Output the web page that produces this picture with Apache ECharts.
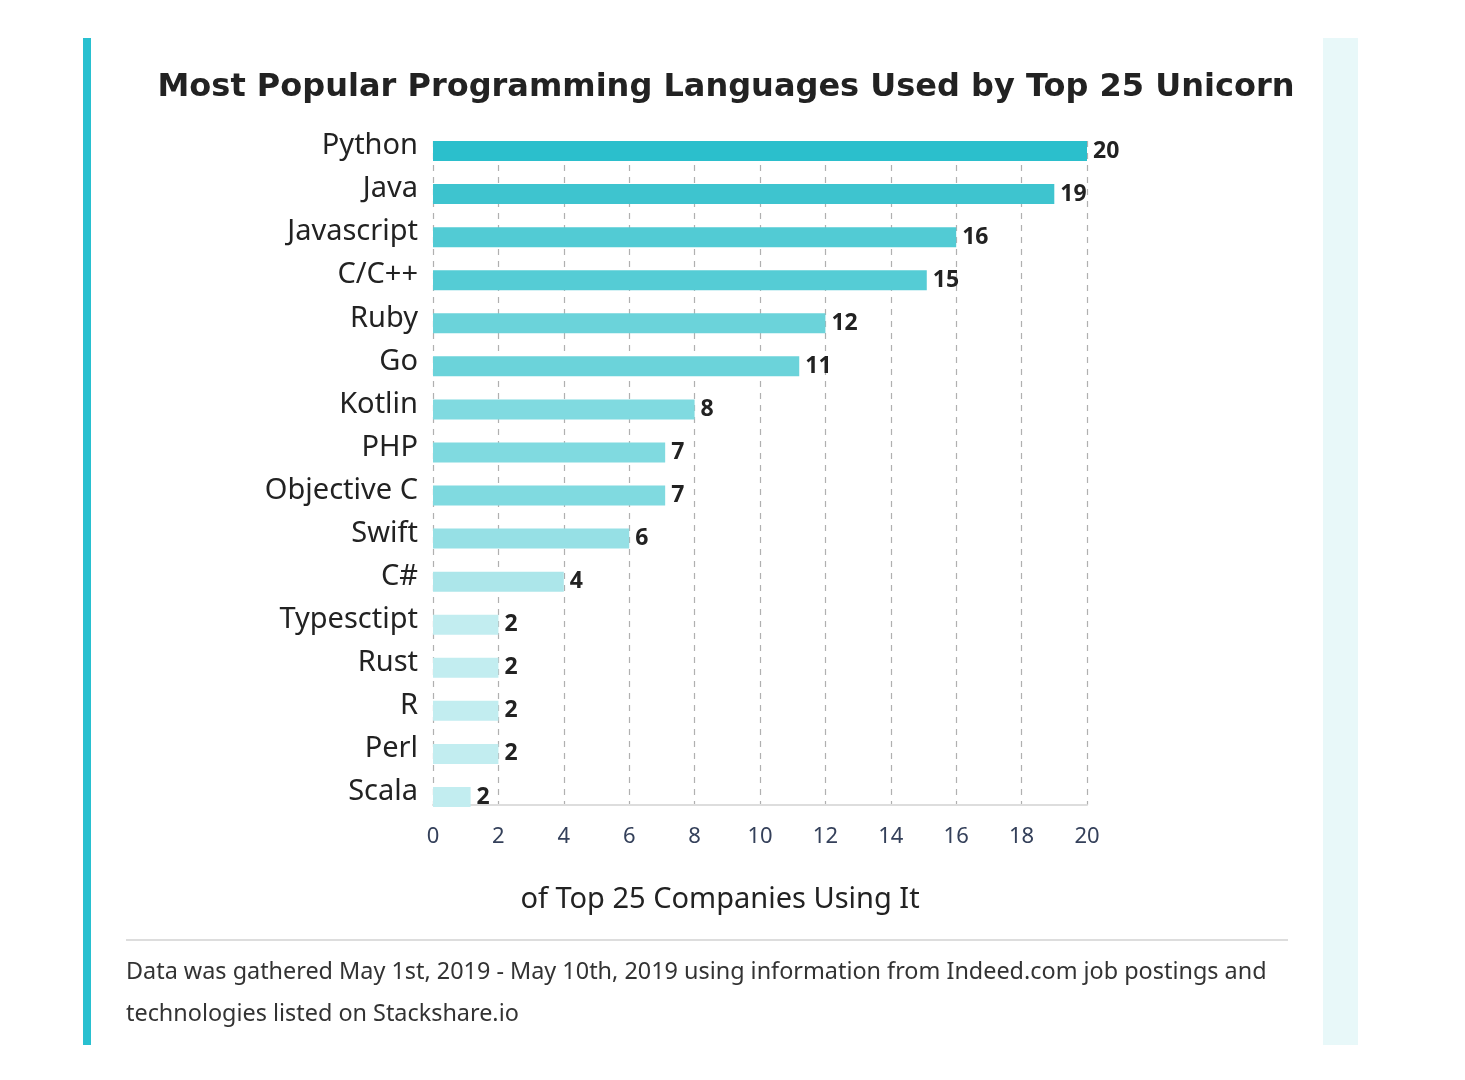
<!DOCTYPE html>
<html>
<head>
<meta charset="utf-8">
<script src="https://cdn.jsdelivr.net/npm/echarts@6/dist/echarts.min.js"></script>
<style>
html,body{margin:0;padding:0;background:#fff;}
#chart{width:1465px;height:1080px;}
</style>
</head>
<body>
<div id="chart"></div>
<script>
// ---- data ----
var categories = ['Python','Java','Javascript','C/C++','Ruby','Go','Kotlin','PHP','Objective C','Swift','C#','Typesctipt','Rust','R','Perl','Scala'];
var barValues = [20, 19, 16, 15.1, 12, 11.2, 8, 7.1, 7.1, 6, 4, 2, 2, 2, 2, 1.15];
var valueLabels = [20, 19, 16, 15, 12, 11, 8, 7, 7, 6, 4, 2, 2, 2, 2, 2];
var xTicks = [0, 2, 4, 6, 8, 10, 12, 14, 16, 18, 20];
var titleText = 'Most Popular Programming Languages Used by Top 25 Unicorn';
var axisTitle = 'of Top 25 Companies Using It';
var noteLines = ['Data was gathered May 1st, 2019 - May 10th, 2019 using information from Indeed.com job postings and',
                 'technologies listed on Stackshare.io'];

// ---- styles ----
var barColors = ['#2bbfcc','#3ec4cf','#52cbd4','#55ccd5','#6bd3da','#6bd3da','#80dae0','#80dae0','#80dae0','#96e0e5','#ace6ea','#c2edf0','#c2edf0','#c2edf0','#c2edf0','#c2edf0'];

var chart = echarts.init(document.getElementById('chart'));
var option = {
  backgroundColor: '#ffffff',
  animation: false,
  title: {
    text: titleText,
    left: 721,
    top: 67,
    textAlign: 'center',
    textStyle: {fontFamily: 'DejaVu Sans', fontWeight: 'bold', fontSize: 32, color: '#222222'}
  },
  grid: [
    {left: 433, right: 378, top: 141, height: 664},
    {left: 433, right: 378, top: 129.5, height: 689}
  ],
  xAxis: [
    {
      gridIndex: 0, type: 'value', min: xTicks[0], max: xTicks[xTicks.length - 1], interval: 2,
      axisLine: {show: true, lineStyle: {color: '#dddddd', width: 2}},
      axisTick: {show: false},
      axisLabel: {margin: 21, fontFamily: 'Noto Sans', fontSize: 22, color: '#34405a'},
      splitLine: {show: true, lineStyle: {type: [6, 6], color: '#b0b0b0', width: 1.2}},
      name: axisTitle, nameLocation: 'middle', nameGap: 80,
      nameTextStyle: {fontFamily: 'Noto Sans', fontSize: 29, color: '#222222', padding: [0, 80, 0, 0]}
    },
    {
      gridIndex: 1, type: 'value', min: xTicks[0], max: xTicks[xTicks.length - 1], show: false,
      splitLine: {show: false}
    }
  ],
  yAxis: [
    {gridIndex: 0, type: 'value', show: false, splitLine: {show: false}},
    {
      gridIndex: 1, type: 'category', data: categories, inverse: true,
      axisLine: {show: false}, axisTick: {show: false},
      axisLabel: {margin: 15, fontFamily: 'Noto Sans', fontSize: 29, color: '#222222',
                  verticalAlign: 'bottom', lineHeight: 10}
    }
  ],
  series: [{
    type: 'bar',
    xAxisIndex: 1, yAxisIndex: 1,
    barWidth: 20,
    data: barValues.map(function (v, i) {
      return {value: v, itemStyle: {color: barColors[i]}};
    }),
    label: {
      show: true, position: 'right', distance: 6,
      fontFamily: 'Noto Sans', fontWeight: 'bold', fontSize: 23, color: '#222222',
      formatter: function (p) { return String(valueLabels[p.dataIndex]); }
    }
  }],
  graphic: [
    {type: 'rect', shape: {x: 83, y: 38, width: 8, height: 1007}, style: {fill: '#29c0d0'}},
    {type: 'rect', shape: {x: 1323, y: 38, width: 35, height: 1007}, style: {fill: '#e8f8f9'}},
    {type: 'line', shape: {x1: 126, y1: 940, x2: 1288, y2: 940}, style: {stroke: '#dddddd', lineWidth: 2}},
    {type: 'text', x: 126, y: 972, style: {text: noteLines[0], fontFamily: 'Noto Sans', fontSize: 23.4, fill: '#333333', verticalAlign: 'middle'}},
    {type: 'text', x: 126, y: 1014, style: {text: noteLines[1], fontFamily: 'Noto Sans', fontSize: 23.4, fill: '#333333', verticalAlign: 'middle'}}
  ]
};
chart.setOption(option);
</script>
</body>
</html>
